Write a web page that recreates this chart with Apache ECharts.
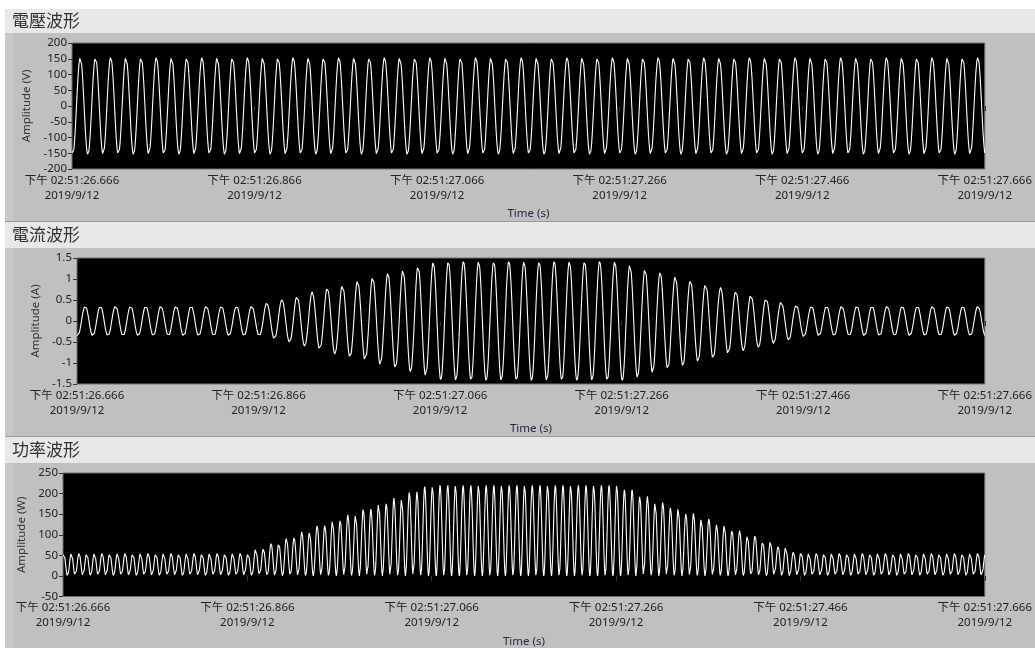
<!DOCTYPE html>
<html>
<head>
<meta charset="utf-8">
<script src="https://cdn.jsdelivr.net/npm/echarts@6/dist/echarts.min.js"></script>
<style>
html,body{margin:0;padding:0;background:#fff;}
#chart{width:1035px;height:648px;}
</style>
</head>
<body>
<div id="chart"></div>
<script>
// ---------------- data ----------------
const panelTitles = ['電壓波形', '電流波形', '功率波形'];
const yAxisNames = ['Amplitude (V)', 'Amplitude (A)', 'Amplitude (W)'];
const xAxisName = 'Time (s)';
const timeTickValues = [0, 200, 400, 600, 800, 1000]; // ms from start
const timeTickLabels = ['下午 02:51:26.666', '下午 02:51:26.866', '下午 02:51:27.066',
                        '下午 02:51:27.266', '下午 02:51:27.466', '下午 02:51:27.666'];
const dateLabel = '2019/9/12';

// Peak amplitude of each 60 Hz cycle (60 cycles in the 1 s window)
const voltagePeaks = [155,155,155,155,155,155,155,155,155,155,155,155,155,155,155,
                      155,155,155,155,155,155,155,155,155,155,155,155,155,155,155,
                      155,155,155,155,155,155,155,155,155,155,155,155,155,155,155,
                      155,155,155,155,155,155,155,155,155,155,155,155,155,155,155];
const currentPeaks = [0.36,0.36,0.36,0.36,0.36,0.36,0.36,0.36,0.36,0.36,0.36,0.36,
                      0.43,0.51,0.60,0.69,0.79,0.87,0.96,1.05,1.14,1.22,1.32,1.40,
                      1.42,1.42,1.42,1.42,1.42,1.42,1.42,1.42,1.42,1.42,1.42,1.42,
                      1.35,1.25,1.16,1.07,0.98,0.90,0.80,0.71,0.63,0.54,0.46,0.38,
                      0.36,0.36,0.36,0.36,0.36,0.36,0.36,0.36,0.36,0.36,0.36,0.36];
const lineFrequency = 60;     // Hz
const sampleRate = 2000;      // samples per second
const startPhase = -0.295;    // cycles
const durationMs = 1000;

// ---------------- build waveforms ----------------
const vData = [], iData = [], pData = [];
const nSamples = Math.round(sampleRate * durationMs / 1000);
for (let n = 0; n <= nSamples; n++) {
  const t = n / sampleRate;
  const u = lineFrequency * t + startPhase;
  const k = Math.min(voltagePeaks.length - 1, Math.max(0, Math.floor(u)));
  const s = Math.sin(2 * Math.PI * u);
  const v = voltagePeaks[k] * s;
  const i = currentPeaks[k] * s;
  const ms = t * 1000;
  vData.push([ms, v]);
  iData.push([ms, i]);
  pData.push([ms, v * i]);
}

// ---------------- layout ----------------
const FONT = '"Noto Sans", "Noto Sans CJK TC", sans-serif';
const grids = [
  {left: 72, top: 43, width: 915, height: 126},
  {left: 77, top: 258, width: 909, height: 126},
  {left: 63, top: 473, width: 923, height: 126}
];
const yRanges = [
  {min: -200, max: 200, interval: 50},
  {min: -1.5, max: 1.5, interval: 0.5},
  {min: -50, max: 250, interval: 50}
];
const yNameGaps = [36, 32, 30];
const panels = [
  {headerY: 9, headerH: 24, bodyY: 33, bodyH: 188},
  {headerY: 222, headerH: 26, bodyY: 248, bodyH: 188},
  {headerY: 437, headerH: 26, bodyY: 463, bodyH: 185}
];

const graphic = [];
panels.forEach((p, idx) => {
  graphic.push({type: 'rect', z: -10, shape: {x: 5, y: p.headerY, width: 1030, height: p.headerH},
    style: {fill: '#e8e8e8'}});
  graphic.push({type: 'rect', z: -10, shape: {x: 5, y: p.bodyY, width: 1030, height: p.bodyH},
    style: {fill: '#c0c0c0'}});
  graphic.push({type: 'rect', z: -9, shape: {x: 5, y: p.bodyY, width: 8, height: p.bodyH},
    style: {fill: '#c8c8c8'}});
  graphic.push({type: 'text', z: 10, x: 12, y: p.headerY + p.headerH / 2,
    style: {text: panelTitles[idx], fill: '#333', font: '17px "Noto Sans CJK TC", sans-serif',
            textVerticalAlign: 'middle', verticalAlign: 'middle'}});
});
graphic.push({type: 'rect', z: -8, shape: {x: 5, y: 221, width: 1030, height: 1}, style: {fill: '#9a9a9a'}});
graphic.push({type: 'rect', z: -8, shape: {x: 5, y: 436, width: 1030, height: 1}, style: {fill: '#9a9a9a'}});

const seriesData = [vData, iData, pData];

const option = {
  animation: false,
  backgroundColor: '#ffffff',
  graphic: graphic,
  grid: grids.map(g => Object.assign({show: true, backgroundColor: '#000', borderColor: '#707070', borderWidth: 1}, g)),
  xAxis: grids.map((g, idx) => ({
    type: 'value', gridIndex: idx, min: 0, max: durationMs, interval: 200,
    name: xAxisName, nameLocation: 'middle', nameGap: 39,
    nameTextStyle: {color: '#2d2345', fontSize: 11.5, fontFamily: FONT},
    axisLine: {show: false},
    axisTick: {show: true, length: 5, lineStyle: {color: '#333'}},
    splitLine: {show: false},
    axisLabel: {
      color: '#222', fontSize: 11.5, fontFamily: FONT, lineHeight: 15, margin: 4,
      showMinLabel: true, showMaxLabel: true,
      formatter: v => {
        const j = timeTickValues.indexOf(Math.round(v));
        return j >= 0 ? timeTickLabels[j] + '\n' + dateLabel : '';
      }
    }
  })),
  yAxis: grids.map((g, idx) => ({
    type: 'value', gridIndex: idx,
    min: yRanges[idx].min, max: yRanges[idx].max, interval: yRanges[idx].interval,
    name: yAxisNames[idx], nameLocation: 'middle', nameRotate: 90, nameGap: yNameGaps[idx],
    nameTextStyle: {color: '#333', fontSize: 11.5, fontFamily: FONT},
    axisLine: {show: false},
    axisTick: {show: true, length: 4, lineStyle: {color: '#333'}},
    splitLine: {show: false},
    axisLabel: {color: '#222', fontSize: 11.5, fontFamily: FONT, margin: 5}
  })),
  series: seriesData.map((d, idx) => ({
    type: 'line', xAxisIndex: idx, yAxisIndex: idx, data: d,
    showSymbol: false, symbol: 'none', clip: true, sampling: false,
    lineStyle: {color: '#ffffff', width: 1.1}
  }))
};

const chart = echarts.init(document.getElementById('chart'), null, {renderer: 'canvas'});
chart.setOption(option);
</script>
</body>
</html>
